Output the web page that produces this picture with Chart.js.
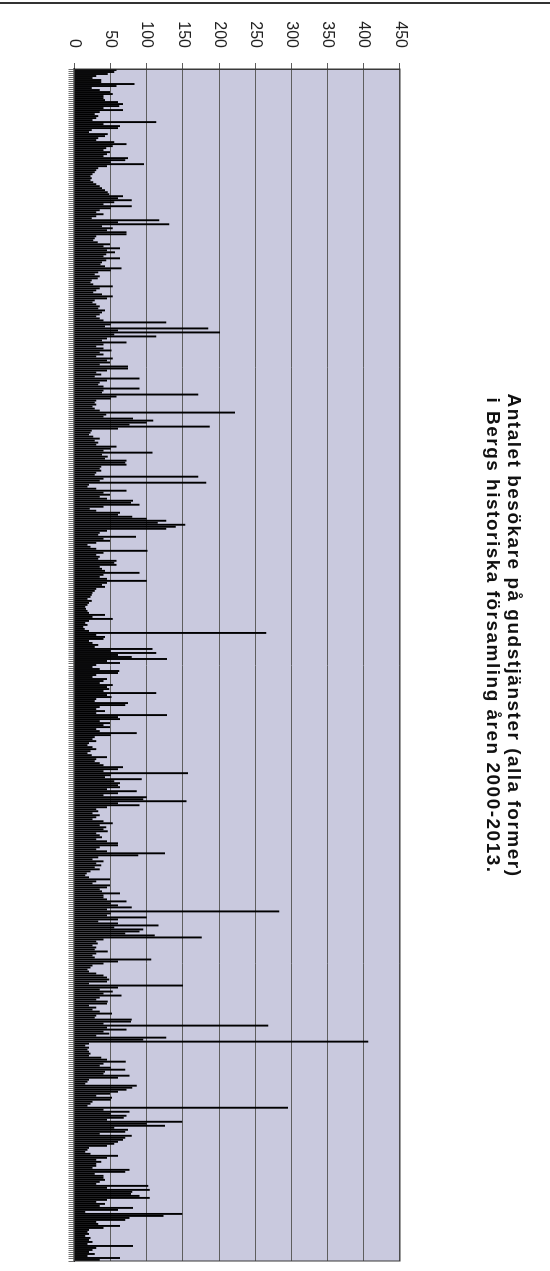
<!DOCTYPE html>
<html>
<head>
<meta charset="utf-8">
<script src="https://cdn.jsdelivr.net/npm/chart.js@4.4.0/dist/chart.umd.min.js"></script>
<style>
html, body { margin: 0; padding: 0; background: #fff; overflow: hidden; width: 550px; height: 1271px; }
/* the chart is drawn lying on its side, like the scanned page */
#wrap { position: absolute; left: 0; top: 0; width: 1271px; height: 550px;
        transform-origin: 0 0; transform: translate(550px, 0) rotate(90deg); }
#chartBox { position: absolute; left: 0; top: 0; width: 1271px; height: 550px; }
#title { position: absolute; left: 0; top: 25px; width: 1271px; text-align: center;
         font: bold 19px/21px 'Liberation Sans', Arial, sans-serif; letter-spacing: 1.5px; color: #111; }
#edge { position: absolute; left: 2px; top: 0; width: 2px; height: 550px; background: #333; }
</style>
</head>
<body>
<div id="wrap">
  <div id="chartBox"><canvas id="myChart"></canvas></div>
  <div id="title">Antalet besökare på gudstjänster (alla former)<br>i Bergs historiska församling åren 2000-2013.</div>
  <div id="edge"></div>
</div>
<script>
// visitors per service, read in chart order (top to bottom in the picture)
var block1 = [58, 55, 46, 30, 25, 37, 37, 83, 58, 24, 35, 49, 53, 40, 40, 42, 60, 67, 62, 40];
var block2 = [67, 35, 28, 33, 30, 25, 113, 40, 63, 60, 24, 20, 46, 42, 33, 30, 55, 72, 53, 44, 40, 49, 45, 40, 74, 70,
              50, 96, 45, 33, 30, 28, 25, 22, 24, 22, 26, 30, 35, 38, 42, 46, 48, 67, 60, 79, 55, 40, 79, 50, 35, 30];
var block3 = [40, 30, 24, 117, 60, 131, 38, 53, 45, 72, 72, 30, 28, 26, 32, 49, 40, 63, 45, 56, 44, 40, 63, 44, 38, 36,
              42, 65, 50, 33, 28, 35, 32, 24, 22, 26, 53, 35, 30, 26, 38, 53, 45, 28, 25, 30, 35, 33, 42, 38, 35, 30, 35];
var block4 = [40, 127, 50, 42, 185, 60, 201, 55, 113, 45, 38, 72, 40, 30, 40, 51, 35, 40, 30, 53, 45, 49, 35, 74, 74, 45,
              30, 37, 28, 90, 45, 35, 33, 40, 90, 40, 38, 171, 58, 50, 30, 28, 30, 25, 28, 35, 222, 44, 40, 81, 109, 100];
var block5 = [76, 187, 60, 24, 22, 20, 26, 35, 28, 33, 30, 58, 50, 40, 108, 38, 46, 42, 72, 70, 72, 37, 35, 37, 30, 28,
              171, 40, 35, 182, 20, 18, 30, 72, 40, 49, 35, 45, 81, 78, 90, 40, 21, 30, 63, 60, 80, 100, 127, 115, 153, 140, 127];
var block6 = [45, 35, 33, 85, 40, 49, 30, 18, 22, 30, 101, 40, 30, 35, 33, 58, 55, 58, 35, 38, 42, 90, 40, 35, 45, 100,
              45, 38, 42, 30, 28, 25, 24, 22, 18, 24, 20, 18, 15, 16, 18, 20, 42, 25, 53, 20, 15, 18, 12, 14, 20, 265];
var block7 = [30, 42, 40, 20, 25, 33, 28, 108, 50, 113, 60, 79, 128, 45, 63, 30, 25, 35, 62, 60, 30, 25, 45, 40, 35, 53,
              45, 48, 40, 113, 45, 51, 30, 28, 74, 70, 35, 30, 42, 30, 128, 60, 63, 35, 49, 40, 49, 30, 35, 86, 50, 28, 25];
var block8 = [30, 20, 18, 25, 30, 22, 18, 24, 45, 30, 28, 35, 40, 67, 60, 40, 157, 50, 42, 93, 55, 63, 60, 63, 45, 86,
              60, 40, 100, 95, 155, 60, 90, 45, 30, 33, 25, 35, 30, 25, 40, 53, 35, 44, 40, 46, 30, 35, 38, 30, 45, 60];
var block9 = [60, 35, 30, 45, 125, 88, 33, 25, 40, 30, 37, 28, 35, 22, 17, 15, 20, 49, 30, 25, 49, 45, 35, 38, 63, 40,
              40, 45, 72, 50, 60, 79, 45, 283, 50, 45, 100, 60, 33, 60, 116, 55, 95, 90, 70, 111, 176, 40, 30, 32, 25, 30, 28];
var block10 = [46, 30, 25, 28, 106, 60, 40, 25, 22, 18, 20, 30, 40, 45, 48, 45, 20, 150, 60, 35, 53, 40, 65, 35, 30, 46,
               45, 20, 30, 25, 35, 52, 30, 28, 79, 78, 40, 268, 45, 72, 40, 48, 30, 127, 95, 406, 20, 15, 20, 18, 20, 22];
var block11 = [20, 37, 45, 71, 40, 35, 50, 70, 42, 40, 76, 60, 20, 18, 15, 86, 80, 72, 60, 49, 30, 52, 50, 25, 22, 18,
               295, 40, 76, 50, 72, 68, 45, 149, 100, 125, 55, 74, 70, 35, 79, 70, 67, 60, 55, 45, 20, 18, 15, 22, 60, 45, 30];
var block12 = [37, 30, 30, 25, 76, 70, 28, 40, 40, 42, 35, 30, 102, 45, 104, 80, 78, 90, 104, 45, 30, 42, 35, 81, 60,
               15, 149, 123, 76, 70, 30, 33, 63, 40, 20, 18, 20, 15, 22, 20, 25, 18, 81, 30, 25, 20, 28, 18, 63, 35];

var visitors = [].concat(block1, block2, block3, block4, block5, block6, block7, block8, block9, block10, block11, block12);
var labels = visitors.map(function (v, i) { return String(i + 1); });

var yMin = 0, yMax = 450, yStep = 50;

// grey-lilac plot area with a frame round it
var plotArea = {
  id: 'plotArea',
  beforeDraw: function (chart) {
    var a = chart.chartArea, c = chart.ctx;
    c.save();
    c.fillStyle = '#c9c9de';
    c.fillRect(a.left, a.top, a.right - a.left, a.bottom - a.top);
    c.restore();
  },
  afterDraw: function (chart) {
    var a = chart.chartArea, c = chart.ctx;
    c.save();
    c.strokeStyle = '#3a3a3a';
    c.lineWidth = 1;
    c.strokeRect(a.left, a.top, a.right - a.left, a.bottom - a.top);
    c.restore();
  }
};

var ctx = document.getElementById('myChart').getContext('2d');
var chart = new Chart(ctx, {
  type: 'bar',
  data: {
    labels: labels,
    datasets: [{
      label: 'Besökare',
      data: visitors,
      backgroundColor: '#000',
      borderWidth: 0,
      barPercentage: 0.95,
      categoryPercentage: 1
    }]
  },
  plugins: [plotArea],
  options: {
    responsive: true,
    maintainAspectRatio: false,
    animation: false,
    layout: { padding: { left: 17, right: 10, top: 150, bottom: 0 } },
    plugins: {
      legend: { display: false },
      tooltip: { enabled: false },
      title: { display: false }
    },
    scales: {
      x: {
        grid: { display: true, drawOnChartArea: false, drawTicks: true, tickLength: 6, color: '#333', lineWidth: 0.7 },
        border: { display: true, color: '#000', width: 1.5 },
        ticks: { display: false },
        afterFit: function (s) { s.height = 74.5; }
      },
      y: {
        min: yMin,
        max: yMax,
        ticks: {
          stepSize: yStep,
          padding: 15,
          color: '#222',
          font: { family: "'Liberation Sans Narrow', 'Liberation Sans', Arial, sans-serif", size: 16 }
        },
        grid: { color: '#5e5e5e', lineWidth: 1, tickLength: 6 },
        border: { display: true, color: '#3a3a3a' },
        afterFit: function (s) { s.width = 52; }
      }
    }
  }
});
</script>
</body>
</html>
